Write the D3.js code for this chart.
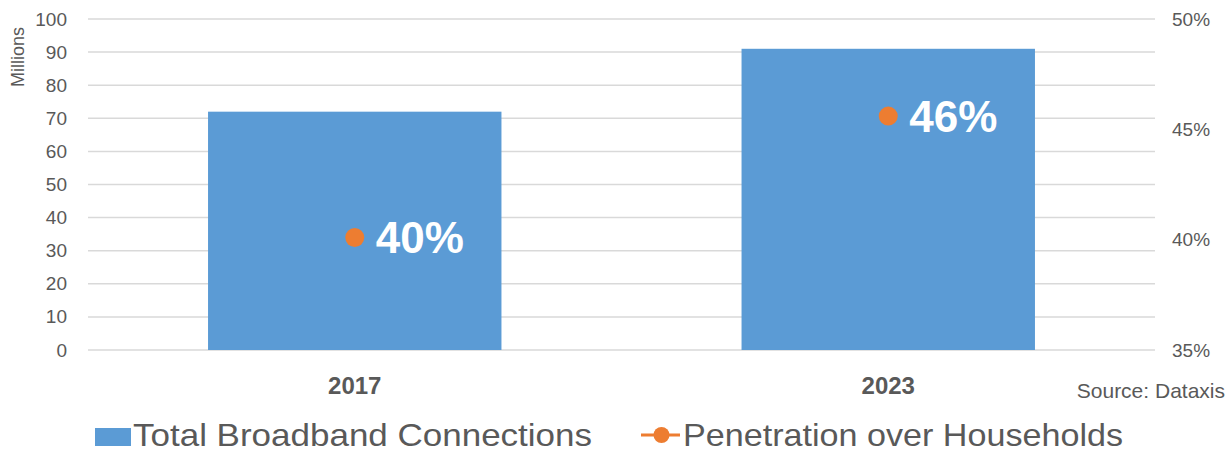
<!DOCTYPE html>
<html>
<head>
<meta charset="utf-8">
<script src="https://cdn.jsdelivr.net/npm/d3@7/dist/d3.min.js"></script>
<style>
  html, body { margin: 0; padding: 0; background: #fff; }
  svg { display: block; font-family: "Liberation Sans", Arial, Helvetica, sans-serif; }
</style>
</head>
<body>
<svg id="chart" width="1229" height="452"></svg>
<script>
const categories = ["2017", "2023"];
const connections = [72, 91];          // millions
const penetration = [40.1, 45.6];      // %
const penetrationLabels = ["40%", "46%"];
const leftTicks = [0, 10, 20, 30, 40, 50, 60, 70, 80, 90, 100];
const rightTicks = [35, 40, 45, 50];

(function () {
const svg = d3.select("#chart");
const pLeft = 88, pRight = 1155, pTop = 19, pBottom = 350;
const textColor = "#595959";

const x = d3.scaleBand().domain(categories).range([pLeft, pRight]).paddingInner(0.45).paddingOuter(0.225);
const y = d3.scaleLinear().domain([0, 100]).range([pBottom, pTop]);
const y2 = d3.scaleLinear().domain([35, 50]).range([pBottom, pTop]);

// gridlines
svg.append("g").selectAll("line").data(leftTicks).join("line")
  .attr("x1", pLeft).attr("x2", pRight)
  .attr("y1", d => y(d)).attr("y2", d => y(d))
  .attr("stroke", "#d9d9d9").attr("stroke-width", 1.5);

// left axis
const gl = svg.append("g").attr("transform", `translate(${pLeft - 21},0)`)
  .call(d3.axisLeft(y).tickValues(leftTicks).tickSize(0).tickPadding(0));
gl.select(".domain").remove();
gl.selectAll("text").attr("fill", textColor).style("font-size", "19px")
  .style("font-family", '"Liberation Sans", Arial, sans-serif');

// right axis
const gr = svg.append("g").attr("transform", `translate(1172,0)`)
  .call(d3.axisRight(y2).tickValues(rightTicks).tickSize(0).tickPadding(0).tickFormat(d => d + "%"));
gr.select(".domain").remove();
gr.selectAll("text").attr("fill", textColor).style("font-size", "19px")
  .style("font-family", '"Liberation Sans", Arial, sans-serif');

// Millions
svg.append("text")
  .attr("transform", "translate(24,57) rotate(-90)")
  .attr("text-anchor", "middle")
  .attr("fill", textColor).style("font-size", "18px")
  .text("Millions");

// bars
svg.append("g").selectAll("rect").data(categories).join("rect")
  .attr("x", d => x(d))
  .attr("width", x.bandwidth())
  .attr("y", (d, i) => y(connections[i]))
  .attr("height", (d, i) => y(0) - y(connections[i]))
  .attr("fill", "#5b9bd5");

// penetration dots
svg.append("g").selectAll("circle").data(categories).join("circle")
  .attr("cx", d => x(d) + x.bandwidth() / 2)
  .attr("cy", (d, i) => y2(penetration[i]))
  .attr("r", 9.5)
  .attr("fill", "#ed7d31");

// penetration labels
svg.append("g").selectAll("text").data(categories).join("text")
  .attr("x", d => x(d) + x.bandwidth() / 2 + 21)
  .attr("y", (d, i) => y2(penetration[i]) + 15.5)
  .attr("fill", "#ffffff")
  .style("font-size", "44px").style("font-weight", "bold")
  .text((d, i) => penetrationLabels[i]);

// x axis labels
svg.append("g").selectAll("text").data(categories).join("text")
  .attr("x", d => x(d) + x.bandwidth() / 2)
  .attr("y", 394)
  .attr("text-anchor", "middle")
  .attr("fill", textColor)
  .style("font-size", "24px").style("font-weight", "bold")
  .text(d => d);

// source
svg.append("text")
  .attr("x", 1225).attr("y", 398)
  .attr("text-anchor", "end")
  .attr("fill", textColor).style("font-size", "21px")
  .text("Source: Dataxis");

// legend
const lg = svg.append("g");
lg.append("rect").attr("x", 95).attr("y", 428).attr("width", 36).attr("height", 18).attr("fill", "#5b9bd5");
lg.append("text").attr("x", 133).attr("y", 446).attr("fill", textColor)
  .style("font-size", "32px").attr("textLength", 459).attr("lengthAdjust", "spacingAndGlyphs")
  .text("Total Broadband Connections");
lg.append("line").attr("x1", 641).attr("x2", 680).attr("y1", 435).attr("y2", 435)
  .attr("stroke", "#ed7d31").attr("stroke-width", 3);
lg.append("circle").attr("cx", 661.5).attr("cy", 435).attr("r", 8).attr("fill", "#ed7d31");
lg.append("text").attr("x", 683).attr("y", 446).attr("fill", textColor)
  .style("font-size", "32px").attr("textLength", 440).attr("lengthAdjust", "spacingAndGlyphs")
  .text("Penetration over Households");
})();
</script>
</body>
</html>
